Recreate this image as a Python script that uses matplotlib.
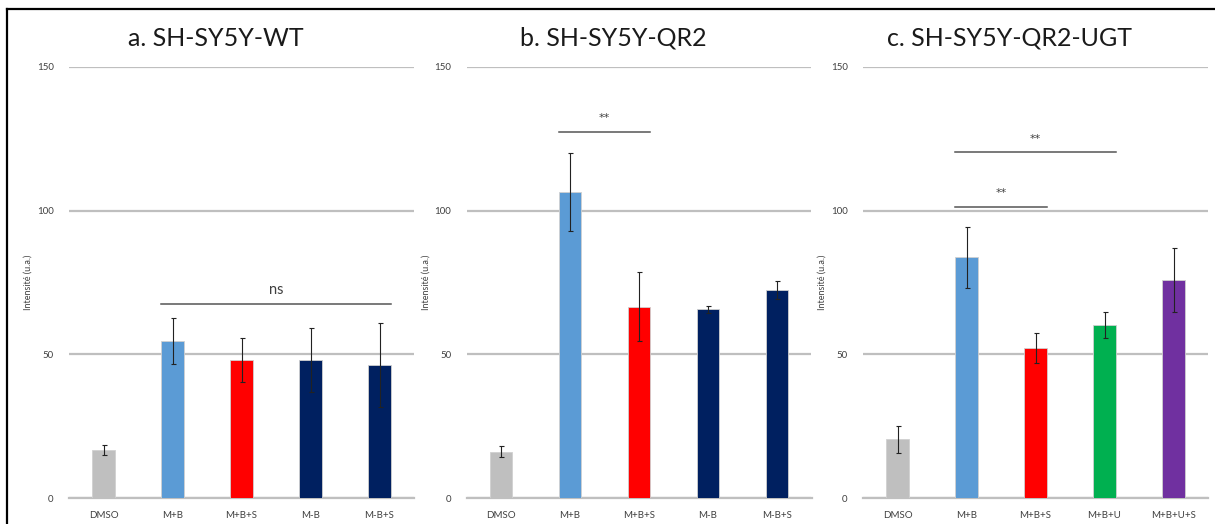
import numpy as np
import matplotlib
matplotlib.use("Agg")
import matplotlib.pyplot as plt
from matplotlib.lines import Line2D

plt.rcParams["font.family"] = ["Lato", "DejaVu Sans"]

# panel data
titles = ["a. SH-SY5Y-WT", "b. SH-SY5Y-QR2", "c. SH-SY5Y-QR2-UGT"]

labels_a = ["DMSO", "M+B", "M+B+S", "M-B", "M-B+S"]
values_a = [16.7, 54.8, 48.0, 48.0, 46.3]
errors_a = [1.7, 8.0, 7.8, 11.0, 14.5]

labels_b = ["DMSO", "M+B", "M+B+S", "M-B", "M-B+S"]
values_b = [16.1, 106.6, 66.6, 65.7, 72.4]
errors_b = [2.0, 13.6, 12.0, 1.2, 3.0]

labels_c = ["DMSO", "M+B", "M+B+S", "M+B+U", "M+B+U+S"]
values_c = [20.4, 83.8, 52.1, 60.2, 75.9]
errors_c = [4.7, 10.6, 5.2, 4.5, 11.0]

colors_ab = ["#bfbfbf", "#5b9bd5", "#ff0000", "#002060", "#002060"]
colors_c = ["#bfbfbf", "#5b9bd5", "#ff0000", "#00b050", "#7030a0"]

# significance bars: (first bar, last bar, height, text)
sig_a = [(1, 4, 67.5, "ns")]
sig_b = [(1, 2, 127.5, "**")]
sig_c = [(1, 3, 120.3, "**"), (1, 2, 101.4, "**")]

panels = [
    (labels_a, values_a, errors_a, colors_ab, sig_a),
    (labels_b, values_b, errors_b, colors_ab, sig_b),
    (labels_c, values_c, errors_c, colors_c, sig_c),
]

fig = plt.figure(figsize=(12.15, 5.24), dpi=100)
W, H = 1215, 524
lefts = [69, 466.5, 863]
bar_w = 0.32

for i, (labels, values, errors, colors, sigs) in enumerate(panels):
    ax = fig.add_axes([lefts[i] / W, 1 - 498 / H, 345 / W, 431 / H])
    x = np.arange(len(labels))
    ax.bar(x, values, width=bar_w, color=colors, edgecolor="#d0d0d0",
           linewidth=0.6, zorder=3)
    ax.errorbar(x, values, yerr=errors, fmt="none", ecolor="#222222",
                elinewidth=0.8, capsize=1.8, capthick=0.8, zorder=4)
    ax.set_xlim(-0.5, len(labels) - 0.5)
    ax.set_ylim(0, 150)
    ax.set_yticks([0, 50, 100, 150])
    ax.yaxis.grid(True, color="#bfbfbf", linewidth=1.6, zorder=0)
    ax.set_axisbelow(True)
    for s in ["top", "right", "left"]:
        ax.spines[s].set_visible(False)
    ax.spines["bottom"].set_color("#bfbfbf")
    ax.spines["bottom"].set_linewidth(1.6)
    ax.tick_params(axis="both", length=0, labelsize=7, colors="#404040")
    ax.tick_params(axis="y", pad=11)
    ax.tick_params(axis="x", pad=9)
    ax.set_xticks(x)
    ax.set_xticklabels(labels)
    ax.set_ylabel("Intensité (u.a.)", fontsize=6.5, color="#404040", labelpad=3)

    for a, b, h, txt in sigs:
        ax.plot([a - bar_w / 2, b + bar_w / 2], [h, h], color="#555555",
                linewidth=1.1, zorder=5)
        if txt == "**":
            ax.text((a + b) / 2, h + 3, txt, ha="center", va="bottom",
                    fontsize=8, color="#404040", family=["DejaVu Sans"])
        else:
            ax.text((a + b) / 2, h + 2.5, txt, ha="center", va="bottom",
                    fontsize=10.5, color="#404040")

    # title is centred over the whole panel (y label included)
    fig.text((lefts[i] + 0.426 * 345) / W, 1 - 38 / H, titles[i],
             ha="center", va="center", fontsize=18, color="#1a1a1a")

# outer frame (left and top edges)
fig.add_artist(Line2D([6.5 / W, 6.5 / W], [0, 1 - 9 / H], color="black",
                      linewidth=1.6, transform=fig.transFigure))
fig.add_artist(Line2D([6.5 / W, 1], [1 - 9 / H, 1 - 9 / H], color="black",
                      linewidth=1.6, transform=fig.transFigure))

fig.savefig("out.png", dpi=100)
